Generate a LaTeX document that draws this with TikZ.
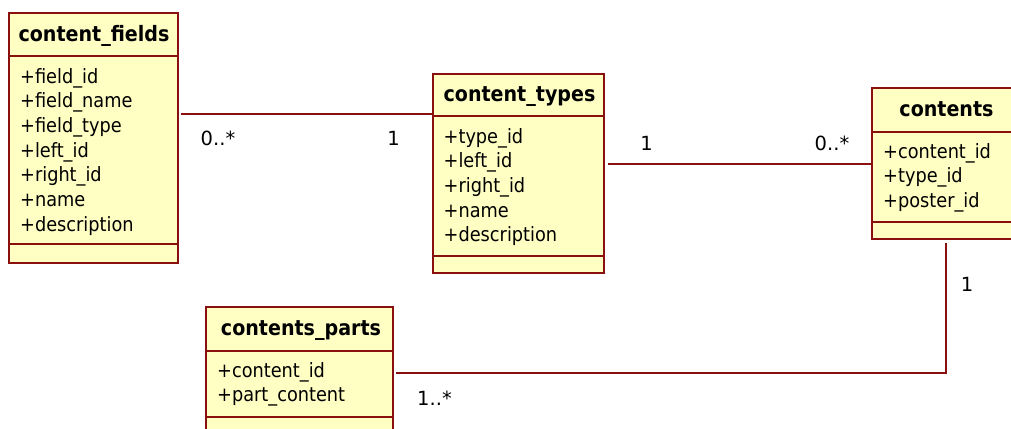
\documentclass[tikz,border=0pt]{standalone}
\usepackage{fontspec}
\setmainfont{DejaVu Sans Condensed}
\newfontfamily\multfont{DejaVu Sans}
\definecolor{umlline}{RGB}{138,16,16}
\definecolor{classfill}{RGB}{255,255,196}
\tikzset{
  classbox/.style={draw=umlline, line width=1.6pt, fill=classfill, anchor=north west,
    inner sep=0pt, outer sep=0pt},
  compsep/.style={draw=umlline, line width=1.6pt},
  classtitle/.style={anchor=base, inner sep=0pt, font=\bfseries\fontsize{21.2}{24}\selectfont},
  attr/.style={anchor=base west, inner sep=0pt, font=\fontsize{19.7}{22}\selectfont},
  mult/.style={anchor=base, inner sep=0pt, font=\multfont\fontsize{19.5}{22}\selectfont},
  assoc/.style={draw=umlline, line width=1.6pt}
}
\begin{document}
\begin{tikzpicture}[x=1pt,y=-1pt]
\useasboundingbox[fill=white] (0,0) rectangle (1011,428);

% content_fields
\node[classbox, minimum width=169pt, minimum height=250pt] (fields) at (9,13) {};
\draw[compsep] (fields.west |- 0,56) -- (fields.east |- 0,56);
\draw[compsep] (fields.west |- 0,244) -- (fields.east |- 0,244);
\node[classtitle] (fieldsT) at (94,41.7) {content\_fields};
\foreach \t [count=\i from 0] in {field\_id,field\_name,field\_type,left\_id,right\_id,name,description}
  \node[attr] (fieldsA\i) at (20,83.2+24.65*\i) {+\t};

% content_types
\node[classbox, minimum width=171pt, minimum height=199pt] (types) at (433,74) {};
\draw[compsep] (types.west |- 0,116) -- (types.east |- 0,116);
\draw[compsep] (types.west |- 0,256) -- (types.east |- 0,256);
\node[classtitle] (typesT) at (519.5,101.7) {content\_types};
\foreach \t [count=\i from 0] in {type\_id,left\_id,right\_id,name,description}
  \node[attr] (typesA\i) at (443.5,143.3+24.6*\i) {+\t};

% contents
\node[classbox, minimum width=148pt, minimum height=151pt] (contents) at (872,88) {};
\draw[compsep] (contents.west |- 0,132) -- (contents.east |- 0,132);
\draw[compsep] (contents.west |- 0,222) -- (contents.east |- 0,222);
\node[classtitle] (contentsT) at (946.5,116) {contents};
\foreach \t [count=\i from 0] in {content\_id,type\_id,poster\_id}
  \node[attr] (contentsA\i) at (883,158.3+24.6*\i) {+\t};

% contents_parts
\node[classbox, minimum width=187pt, minimum height=140pt] (parts) at (206,307) {};
\draw[compsep] (parts.west |- 0,351) -- (parts.east |- 0,351);
\draw[compsep] (parts.west |- 0,417) -- (parts.east |- 0,417);
\node[classtitle] (partsT) at (301,335.7) {contents\_parts};
\foreach \t [count=\i from 0] in {content\_id,part\_content}
  \node[attr] (partsA\i) at (217,377.3+24.6*\i) {+\t};

% associations
\draw[assoc, shorten <=3pt] (fields.east |- 0,114) -- (types.west |- 0,114);
\draw[assoc, shorten <=3.5pt] (types.east |- 0,164) -- (contents.west |- 0,164);
\draw[assoc, shorten <=3pt, shorten >=4pt] (parts.east |- 0,373) -| (contents.south);

% multiplicities
\node[mult] (m1) at (218,145) {0..*};
\node[mult] (m2) at (393.5,145) {1};
\node[mult] (m3) at (646.5,150.7) {1};
\node[mult] (m4) at (832,150.7) {0..*};
\node[mult] (m5) at (967,291) {1};
\node[mult] (m6) at (434.5,405) {1..*};
\end{tikzpicture}
\end{document}
